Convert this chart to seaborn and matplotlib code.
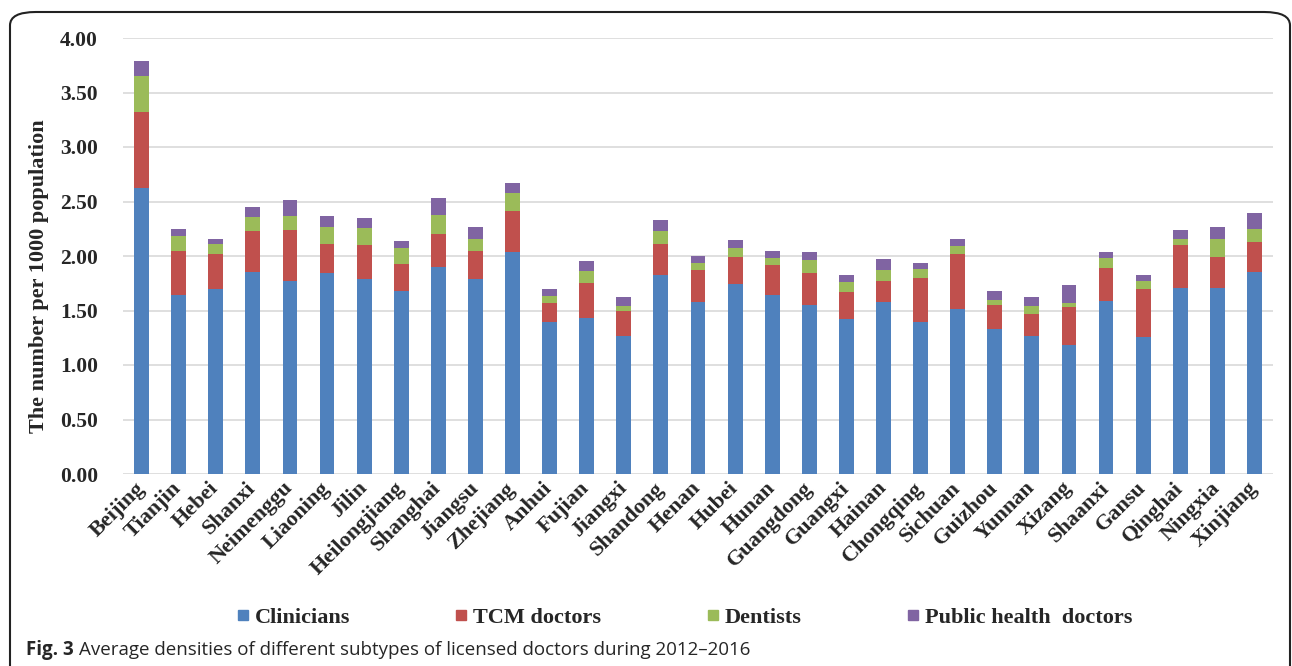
import numpy as np
import pandas as pd
import matplotlib
matplotlib.use("Agg")
import matplotlib.pyplot as plt
from matplotlib.lines import Line2D
from matplotlib.patches import FancyBboxPatch
import seaborn as sns

provinces = ["Beijing", "Tianjin", "Hebei", "Shanxi", "Neimenggu", "Liaoning", "Jilin",
             "Heilongjiang", "Shanghai", "Jiangsu", "Zhejiang", "Anhui", "Fujian", "Jiangxi",
             "Shandong", "Henan", "Hubei", "Hunan", "Guangdong", "Guangxi", "Hainan",
             "Chongqing", "Sichuan", "Guizhou", "Yunnan", "Xizang", "Shaanxi", "Gansu",
             "Qinghai", "Ningxia", "Xinjiang"]

clinicians = [2.62, 1.64, 1.70, 1.85, 1.77, 1.84, 1.79, 1.68, 1.90, 1.79, 2.04, 1.39, 1.43, 1.27,
              1.83, 1.58, 1.74, 1.64, 1.55, 1.42, 1.58, 1.39, 1.51, 1.33, 1.27, 1.18, 1.59, 1.26,
              1.71, 1.71, 1.85]
tcm_doctors = [0.70, 0.41, 0.32, 0.38, 0.47, 0.27, 0.31, 0.25, 0.30, 0.26, 0.37, 0.18, 0.32, 0.23,
               0.28, 0.29, 0.25, 0.28, 0.29, 0.25, 0.19, 0.41, 0.51, 0.22, 0.20, 0.35, 0.30, 0.44,
               0.39, 0.28, 0.28]
dentists = [0.33, 0.13, 0.09, 0.13, 0.13, 0.16, 0.16, 0.14, 0.18, 0.11, 0.17, 0.06, 0.11, 0.04,
            0.12, 0.07, 0.08, 0.06, 0.12, 0.09, 0.10, 0.08, 0.07, 0.05, 0.07, 0.04, 0.09, 0.07,
            0.06, 0.17, 0.12]
public_health = [0.14, 0.07, 0.05, 0.09, 0.14, 0.10, 0.09, 0.07, 0.15, 0.11, 0.09, 0.07, 0.09, 0.08,
                 0.10, 0.06, 0.08, 0.07, 0.08, 0.07, 0.10, 0.06, 0.07, 0.08, 0.08, 0.16, 0.06, 0.06,
                 0.08, 0.11, 0.14]

series_names = ["Clinicians", "TCM doctors", "Dentists", "Public health  doctors"]
series_colors = ["#4F81BD", "#C0504D", "#9BBB59", "#8064A2"]

df = pd.DataFrame({
    "province": provinces,
    "Clinicians": clinicians,
    "TCM doctors": tcm_doctors,
    "Dentists": dentists,
    "Public health  doctors": public_health,
})
# cumulative heights so each layer is drawn as a full-height bar behind the next
cum = df[series_names].cumsum(axis=1)
cum.insert(0, "province", df["province"])

sns.set_theme(style="white")
serif = ["Liberation Serif", "DejaVu Serif"]

W, H = 1292, 666
fig = plt.figure(figsize=(W / 100, H / 100), dpi=100)
fig.patch.set_facecolor("white")

ax = fig.add_axes([123 / W, 1 - 474 / H, 1150 / W, 436 / H])

for name, color in reversed(list(zip(series_names, series_colors))):
    sns.barplot(data=cum, x="province", y=name, color=color, width=0.4,
                saturation=1, ax=ax, edgecolor="none", linewidth=0, zorder=3)

ax.set_ylim(0, 4)
ax.set_xlim(-0.5, len(provinces) - 0.5)
yt = np.arange(0, 4.01, 0.5)
ax.set_yticks(yt)
ax.set_yticklabels([f"{v:.2f}" for v in yt], fontfamily=serif, fontweight="bold", fontsize=15.5)
ax.yaxis.grid(True, color="#D9D9D9", linewidth=1.2, zorder=0)
ax.xaxis.grid(False)
ax.set_axisbelow(True)
for s in ax.spines.values():
    s.set_visible(False)
ax.tick_params(axis="y", length=0, pad=18)
ax.tick_params(axis="x", length=0, pad=8)
ax.set_xticks(range(len(provinces)))
ax.set_xticklabels(provinces, rotation=45, ha="right", va="center", rotation_mode="anchor",
                   fontfamily=serif, fontweight="bold", fontsize=16)
ax.set_xlabel("")
ax.set_ylabel("")

fig.text(39 / W, 1 - 276 / H, "The number per 1000 population", rotation=90,
         ha="center", va="center", fontfamily=serif, fontweight="bold", fontsize=16)

handles = [Line2D([], [], marker="s", linestyle="none", markersize=7.5,
                  markerfacecolor=c, markeredgecolor=c) for c in series_colors]
fig.legend(handles, series_names, loc="center", bbox_to_anchor=(683 / W, 1 - 618 / H),
           ncol=4, frameon=False, handletextpad=0.15, columnspacing=4.6,
           handlelength=0.8, prop={"family": serif, "weight": "bold", "size": 16})

# figure frame and caption
frame = FancyBboxPatch((10 / W, -0.2), (1290 - 10) / W, (1 - 12 / H) + 0.2,
                       boxstyle="round,pad=0,rounding_size=0.02",
                       transform=fig.transFigure, facecolor="none",
                       edgecolor="#222222", linewidth=1.5, clip_on=False)
fig.patches.append(frame)

cap = fig.text(26 / W, 1 - 655 / H, "Fig. 3", ha="left", va="baseline",
               fontfamily="Open Sans", fontweight="bold", fontsize=13.5)
fig.canvas.draw()
bb = cap.get_window_extent()
fig.text((bb.x1 + 5) / W, 1 - 655 / H,
         "Average densities of different subtypes of licensed doctors during 2012\u20132016",
         ha="left", va="baseline", fontfamily="Open Sans", fontsize=13.5)

fig.savefig("out.png", dpi=100, facecolor="white")
